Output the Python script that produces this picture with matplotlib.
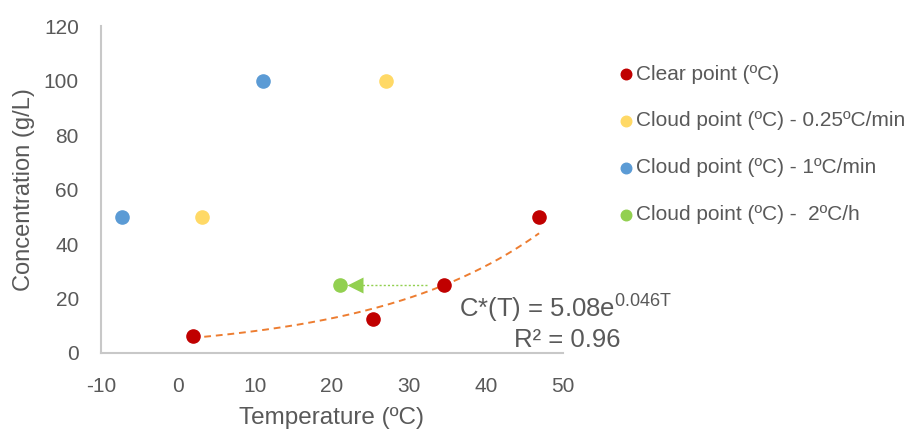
import numpy as np
import matplotlib
matplotlib.use("Agg")
import matplotlib.pyplot as plt

plt.rcParams['font.family'] = ['Liberation Sans', 'DejaVu Sans']
plt.rcParams['mathtext.fontset'] = 'custom'
plt.rcParams['mathtext.rm'] = 'Liberation Sans'
plt.rcParams['axes.unicode_minus'] = False

# measured points (temperature in ºC, concentration in g/L)
clear_T = [1.9, 25.3, 34.6, 46.9]
clear_C = [6.25, 12.5, 25, 50]
cloud_slow_T = [3.1, 27.0]
cloud_slow_C = [50, 100]
cloud_fast_T = [-7.3, 11.0]
cloud_fast_C = [50, 100]
cloud_2h_T = [21.0]
cloud_2h_C = [25]

# exponential fit of the clear points
fit_a = 5.08
fit_b = 0.046
fit_r2 = 0.96

# arrow from the clear point down to the 2ºC/h cloud point
arrow_from = (32.4, 25)
arrow_to = (23.0, 25)

gray = '#595959'
red = '#C00000'
yellow = '#FFD966'
blue = '#5B9BD5'
green = '#92D050'
orange = '#ED7D31'

fig = plt.figure(figsize=(9.13, 4.33), dpi=100)
ax = fig.add_axes([0.1106, 0.1848, 0.506, 0.755])

ms = 90
h1 = ax.scatter(clear_T, clear_C, s=ms, color=red, zorder=3, label='Clear point (ºC)')
h2 = ax.scatter(cloud_slow_T, cloud_slow_C, s=ms, color=yellow, zorder=3,
                label='Cloud point (ºC) - 0.25ºC/min')
h3 = ax.scatter(cloud_fast_T, cloud_fast_C, s=ms, color=blue, zorder=3,
                label='Cloud point (ºC) - 1ºC/min')
h4 = ax.scatter(cloud_2h_T, cloud_2h_C, s=ms, color=green, zorder=3,
                label='Cloud point (ºC) -  2ºC/h')

# trendline over the range of the clear points
t = np.linspace(min(clear_T), max(clear_T), 200)
ax.plot(t, fit_a * np.exp(fit_b * t), color=orange, lw=1.4, ls=(0, (3.5, 2.5)), zorder=2)

# dotted arrow
ax.plot([arrow_from[0], arrow_to[0]], [arrow_from[1], arrow_to[1]],
        color=green, lw=1, ls=(0, (1.5, 1.5)), zorder=2)
ax.plot([arrow_to[0]], [arrow_to[1]], marker='<', ms=11, color=green,
        mec='none', zorder=3)

ax.set_xlim(-10, 50)
ax.set_ylim(0, 120)
ax.set_xticks(np.arange(-10, 51, 10))
ax.set_yticks(np.arange(0, 121, 20))
ax.tick_params(length=0, labelsize=15, labelcolor=gray)
ax.tick_params(axis='x', pad=17)
ax.tick_params(axis='y', pad=16)
for s in ['top', 'right']:
    ax.spines[s].set_visible(False)
for s in ['left', 'bottom']:
    ax.spines[s].set_color('#c8c8c8')
    ax.spines[s].set_linewidth(1.5)

ax.set_xlabel('Temperature (ºC)', fontsize=17.5, color=gray, labelpad=8)
ax.set_ylabel('Concentration (g/L)', fontsize=17, color=gray, labelpad=6)

# fit equation
fig.text(459 / 913, 1 - 316.7 / 433,
         r'C*(T) = %.2fe$^{\mathregular{%.3fT}}$' % (fit_a, fit_b),
         fontsize=18.5, color=gray, ha='left', va='baseline')
fig.text(620 / 913, 1 - 346.7 / 433, 'R² = %.2f' % fit_r2,
         fontsize=18.5, color=gray, ha='right', va='baseline')

fig.legend(handles=[h1, h2, h3, h4], loc='upper left',
           bbox_to_anchor=(0.667, 0.875), frameon=False, fontsize=15,
           labelcolor=gray, markerscale=0.8, handlelength=0.6,
           handletextpad=0.2, labelspacing=1.34, borderpad=0)

fig.savefig('out.png', dpi=100)
